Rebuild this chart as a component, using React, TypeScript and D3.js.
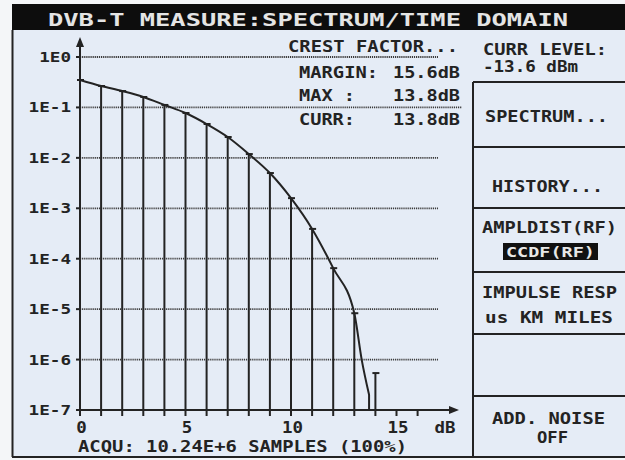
import * as d3 from 'd3';

const yTickVals = [1, 1e-1, 1e-2, 1e-3, 1e-4, 1e-5, 1e-6, 1e-7];
const yTickLabels = ['1E0', '1E-1', '1E-2', '1E-3', '1E-4', '1E-5', '1E-6', '1E-7'];
const xTickLabels = [0, 5, 10, 15];
const xMinorTicks = [0, 1, 2, 3, 4, 5, 6, 7, 8, 9, 10, 11, 12, 13, 14, 15, 16];

// bars at every dB, value read at the cap
const barDb = [0, 1, 2, 3, 4, 5, 6, 7, 8, 9, 10, 11, 12, 13, 14];
const barVal = [0.35, 0.266, 0.211, 0.161, 0.112, 0.0775, 0.0469, 0.0259, 0.0119, 0.005, 0.00159, 3.9e-4, 6.5e-5, 8.3e-6, 5.4e-7];

// ccdf curve
const curveDb = [0, 1, 2, 3, 4, 5, 6, 7, 8, 9, 10, 11, 12, 13, 13.35, 13.7];
const curveVal = [0.35, 0.266, 0.211, 0.161, 0.112, 0.0775, 0.0469, 0.0259, 0.0119, 0.005, 0.00159, 3.9e-4, 6.5e-5, 8.3e-6, 1.0e-6, 2.0e-7];

const INK = '#232323';
const BG = '#e5ecf6';
const FONT = '"DejaVu Sans Mono", "Liberation Mono", monospace';

function T({ x, y, s, len, fs = 15, anchor = 'start', fill = INK }: any) {
  return (
    <text x={x} y={y} fontFamily={FONT} fontWeight="bold" fontSize={fs} fill={fill}
      textAnchor={anchor} textLength={len} lengthAdjust="spacingAndGlyphs">{s}</text>
  );
}

export default function App() {
  const W = 625, H = 460;
  const x = d3.scaleLinear().domain([0, 15]).range([80, 396.5]);
  const y = d3.scaleLog().domain([1, 1e-7]).range([57, 410]);

  const pts: [number, number][] = curveDb.map((d, i) => [x(d), y(curveVal[i])]);
  const line = d3.line().curve(d3.curveMonotoneX);
  const last = curveDb[curveDb.length - 1];
  const curvePath = line(pts) + `L${x(last)},${y(1e-7)}`;

  const menuLines = [82, 147, 208, 272, 334, 396];

  return (
    <div style={{ position: 'fixed', left: 0, top: 0 }}>
      <svg width={W} height={H} viewBox={`0 0 ${W} ${H}`} style={{ display: 'block' }}>
        <rect x={0} y={0} width={W} height={H} fill="#f4f6f8" />
        {/* screen */}
        <rect x={12} y={30} width={W - 12} height={427} fill={BG} />
        <rect x={12} y={4} width={W - 12} height={26} fill="#0d0d0d" />
        <T x={48} y={26} s="DVB-T MEASURE:SPECTRUM/TIME DOMAIN" len={520} fs={18} fill="#e4e4e4" />
        <line x1={12.5} y1={30} x2={12.5} y2={457} stroke={INK} strokeWidth={2} />
        <line x1={12} y1={457} x2={W} y2={457} stroke={INK} strokeWidth={2} />

        {/* gridlines */}
        {yTickVals.slice(0, 7).map((v, i) => (
          <line key={'g' + i} x1={80} x2={i === 1 ? 462 : 438} y1={y(v)} y2={y(v)}
            stroke="#3a3a3a" strokeWidth={1.8} strokeDasharray="1.2,0.9" />
        ))}

        {/* y ticks and labels */}
        {yTickVals.map((v, i) => (
          <g key={'y' + i}>
            <line x1={76} x2={80} y1={y(v)} y2={y(v)} stroke={INK} strokeWidth={2} />
            <T x={71} y={y(v) + 5} s={yTickLabels[i]} len={yTickLabels[i].length * 10.6} fs={14} anchor="end" />
          </g>
        ))}

        {/* x ticks */}
        {xMinorTicks.map(d => (
          <line key={'xt' + d} x1={x(d)} x2={x(d)} y1={410} y2={416} stroke={INK} strokeWidth={2} />
        ))}
        {xTickLabels.map(d => (
          <T key={'xl' + d} x={x(d) + 1.5} y={433} s={String(d)} len={String(d).length * 10.5} anchor="middle" />
        ))}
        <T x={445} y={433} s="dB" len={21} anchor="middle" />

        {/* bars */}
        {barDb.map((d, i) => (
          <g key={'b' + i}>
            <line x1={x(d)} x2={x(d)} y1={410} y2={y(barVal[i])} stroke={INK} strokeWidth={2} />
            <line x1={x(d) - 3} x2={x(d) + 4} y1={y(barVal[i])} y2={y(barVal[i])} stroke={INK} strokeWidth={2} />
          </g>
        ))}

        {/* curve */}
        <path d={curvePath} fill="none" stroke={INK} strokeWidth={2} />

        {/* axes */}
        <line x1={80} x2={80} y1={410} y2={44} stroke={INK} strokeWidth={2} />
        <path d="M80,37 L84,47 L76,47 Z" fill={INK} />
        <line x1={80} x2={452} y1={410} y2={410} stroke={INK} strokeWidth={2} />
        <path d="M459,410 L449,406 L449,414 Z" fill={INK} />

        {/* crest factor box */}
        <T x={288} y={52} s="CREST FACTOR..." len={170} />
        <T x={299} y={78} s="MARGIN:" len={79} />
        <T x={460} y={78} s="15.6dB" len={67} anchor="end" />
        <T x={299} y={101} s="MAX :" len={56} />
        <T x={460} y={101} s="13.8dB" len={67} anchor="end" />
        <T x={299} y={125} s="CURR:" len={56} />
        <T x={460} y={125} s="13.8dB" len={67} anchor="end" />

        <T x={78} y={452} s="ACQU: 10.24E+6 SAMPLES (100%)" len={329} />

        {/* side menu */}
        <line x1={473} x2={473} y1={82} y2={457} stroke={INK} strokeWidth={2} />
        {menuLines.map(m => (
          <line key={'m' + m} x1={473} x2={W} y1={m} y2={m} stroke={INK} strokeWidth={2} />
        ))}
        <T x={483} y={55} s="CURR LEVEL:" len={124} />
        <T x={483} y={72} s="-13.6 dBm" len={95} />
        <T x={485} y={122} s="SPECTRUM..." len={123} />
        <T x={492} y={192} s="HISTORY..." len={111} />
        <T x={482} y={233} s="AMPLDIST(RF)" len={135} />
        <rect x={503} y={243} width={95} height={17} fill="#111" />
        <T x={506} y={257} s="CCDF(RF)" len={89} fs={14} fill="#e8e8e8" />
        <T x={482} y={298} s="IMPULSE RESP" len={135} />
        <T x={485} y={323} s="us KM MILES" len={128} />
        <T x={492} y={424} s="ADD. NOISE" len={113} />
        <T x={537} y={443} s="OFF" len={31} />
      </svg>
    </div>
  );
}
